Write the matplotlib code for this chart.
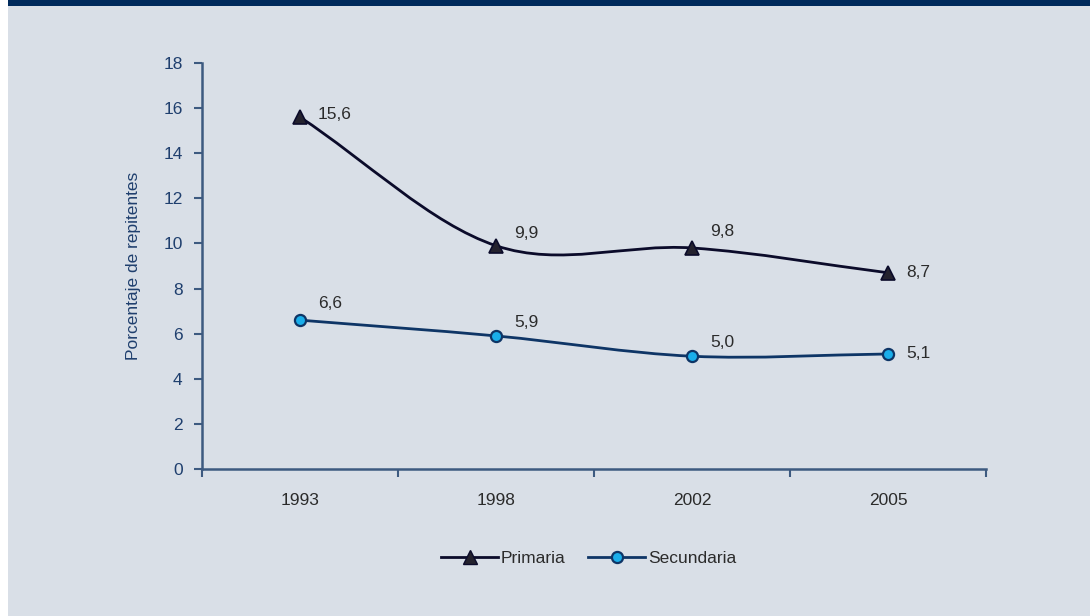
import numpy as np
import matplotlib
matplotlib.use("Agg")
import matplotlib.pyplot as plt
from matplotlib.path import Path
from matplotlib.patches import PathPatch, Rectangle
from matplotlib.lines import Line2D

years = ["1993", "1998", "2002", "2005"]
primaria = [15.6, 9.9, 9.8, 8.7]
secundaria = [6.6, 5.9, 5.0, 5.1]
yticks = [0, 2, 4, 6, 8, 10, 12, 14, 16, 18]

# offsets (points) of the value labels from each marker
prim_offsets = [(13, 2), (13, 9), (13, 12), (13, 0)]
sec_offsets = [(13, 12), (13, 10), (13, 10), (13, 0)]

NAVY = "#1f3f6e"
SPINE = "#3d5a80"
BG = "#d9dfe7"
BAND = "#002a5c"
TXT = "#2b2b2b"
FS = 12.5

plt.rcParams["font.family"] = ["Liberation Sans", "DejaVu Sans"]


def smooth_path(xs, ys):
    # cardinal spline through the points, drawn as cubic Bezier segments;
    # the end tangents follow the first/last chord
    pts = np.column_stack([np.asarray(xs, float), np.asarray(ys, float)])
    n = len(pts)
    ext = np.vstack([2 * pts[0] - pts[1], pts, 2 * pts[-1] - pts[-2]])
    verts = [pts[0]]
    codes = [Path.MOVETO]
    for i in range(1, n):
        p0, p1, p2, p3 = ext[i - 1], ext[i], ext[i + 1], ext[i + 2]
        verts += [p1 + (p2 - p0) / 6.0, p2 - (p3 - p1) / 6.0, p2]
        codes += [Path.CURVE4] * 3
    return Path(verts, codes)


fig = plt.figure(figsize=(10.9, 6.16), dpi=100, facecolor="white")
fig.patches.append(Rectangle((8 / 1090, 0), 1, 610 / 616, transform=fig.transFigure,
                             facecolor=BG, edgecolor="none", zorder=-2))
fig.patches.append(Rectangle((8 / 1090, 610 / 616), 1, 6 / 616, transform=fig.transFigure,
                             facecolor=BAND, edgecolor="none", zorder=-2))

ax = fig.add_axes([202 / 1090, 147 / 616, 784 / 1090, 406 / 616])
ax.set_facecolor("none")
x = np.arange(len(years))

prim_color = "#0b0b2a"
sec_color = "#0e3566"

ax.add_patch(PathPatch(smooth_path(x, primaria), facecolor="none",
                       edgecolor=prim_color, lw=2.0, zorder=3))
ax.add_patch(PathPatch(smooth_path(x, secundaria), facecolor="none",
                       edgecolor=sec_color, lw=2.0, zorder=3))
ax.plot(x, primaria, ls="none", marker="^", ms=10, mfc="#24222e",
        mec=prim_color, mew=1.2, zorder=4)
ax.plot(x, secundaria, ls="none", marker="o", ms=8, mfc="#1aaeea",
        mec=sec_color, mew=1.6, zorder=4)

for xi, v, off in zip(x, primaria, prim_offsets):
    ax.annotate(f"{v:.1f}".replace(".", ","), (xi, v), xytext=off,
                textcoords="offset points", ha="left", va="center",
                fontsize=FS, color=TXT)
for xi, v, off in zip(x, secundaria, sec_offsets):
    ax.annotate(f"{v:.1f}".replace(".", ","), (xi, v), xytext=off,
                textcoords="offset points", ha="left", va="center",
                fontsize=FS, color=TXT)

ax.set_xlim(-0.5, len(years) - 0.5)
ax.set_ylim(0, 18)
ax.set_yticks(yticks)
ax.set_yticklabels([str(t) for t in yticks], fontsize=FS, color=NAVY)
ax.set_xticks(np.arange(-0.5, len(years), 1.0))
ax.set_xticklabels([])
ax.set_xticks(x, minor=True)
ax.set_xticklabels(years, minor=True, fontsize=FS, color=TXT)
ax.tick_params(axis="x", which="minor", length=0, pad=17)
ax.tick_params(axis="x", which="major", length=6, width=1.5, color=SPINE, direction="out")
ax.tick_params(axis="y", length=6, width=1.5, color=SPINE, direction="out", pad=8)

for s in ("top", "right"):
    ax.spines[s].set_visible(False)
for s in ("left", "bottom"):
    ax.spines[s].set_color(SPINE)
    ax.spines[s].set_linewidth(1.8)

ax.set_ylabel("Porcentaje de repitentes", fontsize=FS, color=NAVY, labelpad=16)

handles = [
    Line2D([], [], color=prim_color, lw=2.0, marker="^", ms=10, mfc="#24222e", mec=prim_color),
    Line2D([], [], color=sec_color, lw=2.0, marker="o", ms=8, mfc="#1aaeea", mec=sec_color, mew=1.6),
]
fig.legend(handles, ["Primaria", "Secundaria"], loc="center", bbox_to_anchor=(0.54, 1 - 558 / 616),
           ncol=2, frameon=False, fontsize=FS, handlelength=3.3, handletextpad=0.15,
           columnspacing=1.3, labelcolor=TXT)

fig.savefig("out.png", dpi=100, facecolor=fig.get_facecolor())
